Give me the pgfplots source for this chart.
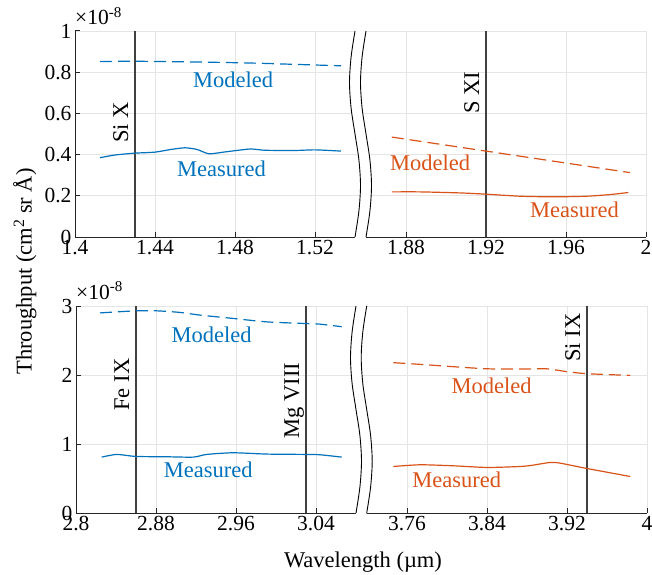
\documentclass[border=0pt]{standalone}
\usepackage{fontspec}
\setmainfont{Liberation Serif}
\usepackage{pgfplots}
\pgfplotsset{compat=1.18}
\definecolor{mblue}{rgb}{0,0.447,0.741}
\definecolor{morange}{rgb}{0.85,0.325,0.098}
\definecolor{axgray}{rgb}{0.15,0.15,0.15}
\definecolor{gridgray}{rgb}{0.9,0.9,0.9}
\definecolor{linegray}{rgb}{0.25,0.25,0.25}
\newcommand\tf{\fontsize{21.5}{25}\selectfont}
\newcommand\lf{\fontsize{22.5}{27}\selectfont}
\tikzset{
  meas/.style={line width=1.2pt, smooth, tension=0.4},
  mod/.style={line width=1.2pt, smooth, tension=0.4, dash pattern=on 12pt off 6pt},
  vline/.style={linegray, line width=1.3pt},
  lbl/.style={font=\lf},
  vlbl/.style={font=\lf, xshift=-7pt, rotate=90, anchor=base},
}
\pgfplotsset{
  panel/.style={
    scale only axis, width=571pt, anchor=south west,
    axis x line*=bottom, axis y line*=left,
    axis line style={axgray, line width=1pt, -},
    tick style={axgray, line width=1pt},
    tick align=inside, major tick length=5pt,
    grid=major, grid style={gridgray, line width=0.8pt},
    clip=false,
    ticklabel style={font=\tf},
    /pgf/number format/assume math mode=true,
  },
}
\begin{document}
\begin{tikzpicture}
\useasboundingbox (0,0) rectangle (652pt,574pt);
% ---------- top panel ----------
\begin{axis}[panel, at={(75pt,337pt)}, height=206pt,
  xmin=1.4, xmax=1.6855, ymin=0, ymax=1,
  xtick={1.4,1.44,1.48,1.52,1.5655,1.6055,1.6455,1.6855},
  xticklabels={1.4,1.44,1.48,1.52,1.88,1.92,1.96,2},
  ytick={0,0.2,0.4,0.6,0.8,1},
  yticklabels={0,0.2,0.4,0.6,0.8,1},
  ]
  \addplot[vline] coordinates {(1.43,0) (1.43,1)};
  \addplot[vline, x filter/.expression={x-0.3145}] coordinates {(1.92,0) (1.92,1)};
  \addplot[mblue, mod] coordinates {(1.4125,0.852) (1.43,0.853) (1.45,0.851) (1.47,0.848) (1.49,0.844) (1.51,0.838) (1.533,0.831)};
  \addplot[mblue, meas] coordinates {(1.4125,0.385) (1.42,0.398) (1.43,0.407) (1.44,0.412) (1.448,0.425) (1.455,0.433) (1.461,0.425) (1.467,0.404) (1.475,0.413) (1.4875,0.427) (1.495,0.421) (1.51,0.42) (1.52,0.423) (1.533,0.417)};
  \addplot[morange, mod, x filter/.expression={x-0.3145}] coordinates {(1.8729,0.485) (1.92,0.417) (1.992,0.3125)};
  \addplot[morange, meas, x filter/.expression={x-0.3145}] coordinates {(1.8729,0.219) (1.887,0.219) (1.907,0.214) (1.9198,0.208) (1.937,0.198) (1.9537,0.195) (1.9703,0.198) (1.982,0.206) (1.9912,0.216)};
  \node[lbl, text=mblue] at (axis cs:1.479,0.763) {Modeled};
  \node[lbl, text=mblue] at (axis cs:1.4733,0.332) {Measured};
  \node[lbl, text=morange] at (axis cs:1.5775,0.361) {Modeled};
  \node[lbl, text=morange] at (axis cs:1.6497,0.13) {Measured};
  \node[vlbl] at (axis cs:1.43,0.555) {Si X};
  \node[vlbl] at (axis cs:1.6055,0.70) {S XI};
  \node[anchor=base west, font=\tf, inner sep=0pt] at ([yshift=6pt]rel axis cs:0,1) {×10\textsuperscript{-8}};
  % axis break
  \fill[white] plot[smooth] coordinates {(axis cs:1.54,1.01) (axis cs:1.54,1) (axis cs:1.538056,0.875) (axis cs:1.53725,0.75) (axis cs:1.538056,0.625) (axis cs:1.54,0.5) (axis cs:1.541944,0.375) (axis cs:1.54275,0.25) (axis cs:1.541944,0.125) (axis cs:1.54,0) (axis cs:1.54,-0.01)}
    -- plot[smooth] coordinates {(axis cs:1.5455,-0.01) (axis cs:1.5455,0) (axis cs:1.547444,0.125) (axis cs:1.54825,0.25) (axis cs:1.547444,0.375) (axis cs:1.5455,0.5) (axis cs:1.543556,0.625) (axis cs:1.54275,0.75) (axis cs:1.543556,0.875) (axis cs:1.5455,1) (axis cs:1.5455,1.01)} -- cycle;
  \draw[black, line width=0.9pt] plot[smooth] coordinates {(axis cs:1.54,1) (axis cs:1.538056,0.875) (axis cs:1.53725,0.75) (axis cs:1.538056,0.625) (axis cs:1.54,0.5) (axis cs:1.541944,0.375) (axis cs:1.54275,0.25) (axis cs:1.541944,0.125) (axis cs:1.54,0)};
  \draw[black, line width=0.9pt] plot[smooth] coordinates {(axis cs:1.5455,1) (axis cs:1.543556,0.875) (axis cs:1.54275,0.75) (axis cs:1.543556,0.625) (axis cs:1.5455,0.5) (axis cs:1.547444,0.375) (axis cs:1.54825,0.25) (axis cs:1.547444,0.125) (axis cs:1.5455,0)};
\end{axis}
% ---------- bottom panel ----------
\begin{axis}[panel, at={(76pt,61pt)}, height=207pt,
  xmin=2.8, xmax=3.371, ymin=0, ymax=3,
  xtick={2.8,2.88,2.96,3.04,3.131,3.211,3.291,3.371},
  xticklabels={2.8,2.88,2.96,3.04,3.76,3.84,3.92,4},
  ytick={0,1,2,3},
  yticklabels={0,1,2,3},
  ]
  \addplot[vline] coordinates {(2.86,0) (2.86,3)};
  \addplot[vline] coordinates {(3.03,0) (3.03,3)};
  \addplot[vline, x filter/.expression={x-0.629}] coordinates {(3.94,0) (3.94,3)};
  \addplot[mblue, mod] coordinates {(2.824,2.90) (2.8597,2.93) (2.8807,2.93) (2.904,2.907) (2.924,2.868) (2.957,2.82) (2.9907,2.77) (3.0297,2.746) (3.044,2.737) (3.0657,2.70)};
  \addplot[mblue, meas] coordinates {(2.8257,0.81) (2.8407,0.849) (2.8597,0.82) (2.8907,0.815) (2.9173,0.81) (2.9307,0.849) (2.957,0.873) (2.9907,0.854) (3.0297,0.849) (3.044,0.844) (3.0657,0.81)};
  \addplot[morange, mod, x filter/.expression={x-0.629}] coordinates {(3.7463,2.179) (3.7733,2.154) (3.8067,2.12) (3.84,2.09) (3.873,2.086) (3.8997,2.09) (3.92,2.048) (3.94,2.019) (3.9833,1.994)};
  \addplot[morange, meas, x filter/.expression={x-0.629}] coordinates {(3.7463,0.674) (3.7733,0.699) (3.8067,0.684) (3.84,0.66) (3.873,0.674) (3.8863,0.694) (3.903,0.733) (3.913,0.723) (3.94,0.645) (3.9833,0.529)};
  \node[lbl, text=mblue] at (axis cs:2.9357,2.576) {Modeled};
  \node[lbl, text=mblue] at (axis cs:2.9323,0.626) {Measured};
  \node[lbl, text=morange] at (axis cs:3.2157,1.838) {Modeled};
  \node[lbl, text=morange] at (axis cs:3.1807,0.48) {Measured};
  \node[vlbl] at (axis cs:2.86,1.86) {Fe IX};
  \node[vlbl] at (axis cs:3.03,1.63) {Mg VIII};
  \node[vlbl] at (axis cs:3.311,2.54) {Si IX};
  \node[anchor=base west, font=\tf, inner sep=0pt] at ([yshift=7pt]rel axis cs:0,1) {×10\textsuperscript{-8}};
  % axis break
  \fill[white] plot[smooth] coordinates {(axis cs:3.08,3.03) (axis cs:3.08,3) (axis cs:3.07611,2.625) (axis cs:3.0745,2.25) (axis cs:3.07611,1.875) (axis cs:3.08,1.5) (axis cs:3.08389,1.125) (axis cs:3.0855,0.75) (axis cs:3.08389,0.375) (axis cs:3.08,0) (axis cs:3.08,-0.03)}
    -- plot[smooth] coordinates {(axis cs:3.0907,-0.03) (axis cs:3.0907,0) (axis cs:3.09459,0.375) (axis cs:3.0962,0.75) (axis cs:3.09459,1.125) (axis cs:3.0907,1.5) (axis cs:3.08681,1.875) (axis cs:3.0852,2.25) (axis cs:3.08681,2.625) (axis cs:3.0907,3) (axis cs:3.0907,3.03)} -- cycle;
  \draw[black, line width=0.9pt] plot[smooth] coordinates {(axis cs:3.08,3) (axis cs:3.07611,2.625) (axis cs:3.0745,2.25) (axis cs:3.07611,1.875) (axis cs:3.08,1.5) (axis cs:3.08389,1.125) (axis cs:3.0855,0.75) (axis cs:3.08389,0.375) (axis cs:3.08,0)};
  \draw[black, line width=0.9pt] plot[smooth] coordinates {(axis cs:3.0907,3) (axis cs:3.08681,2.625) (axis cs:3.0852,2.25) (axis cs:3.08681,1.875) (axis cs:3.0907,1.5) (axis cs:3.09459,1.125) (axis cs:3.0962,0.75) (axis cs:3.09459,0.375) (axis cs:3.0907,0)};
\end{axis}
\node[font=\lf, rotate=90, anchor=base] at (31.7pt,302.5pt) {Throughput (cm\textsuperscript{2} sr Å)};
\node[font=\lf, anchor=base] at (363pt,7pt) {Wavelength (µm)};
\end{tikzpicture}
\end{document}
